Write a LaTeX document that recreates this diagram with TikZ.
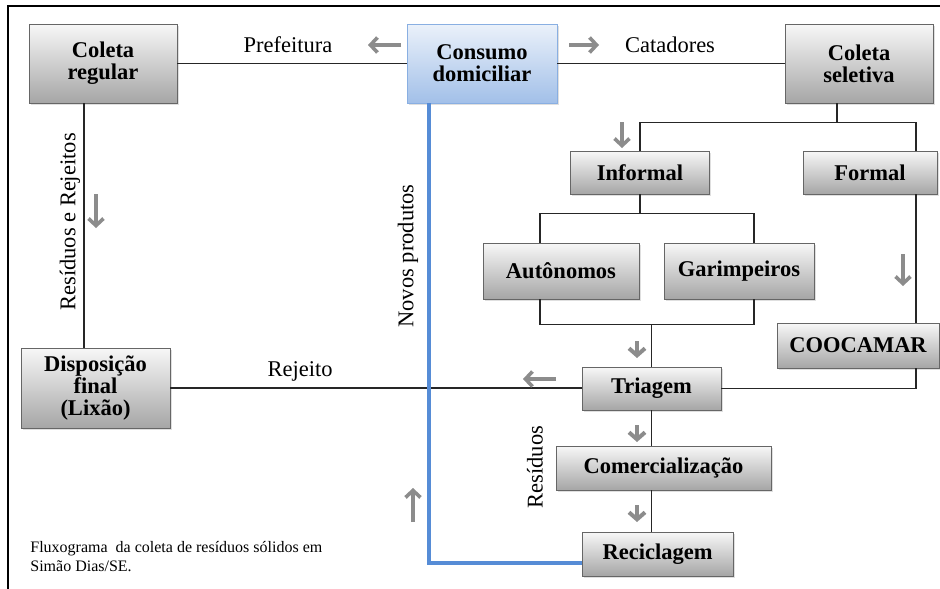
\documentclass[tikz,border=0pt]{standalone}
\usepackage{fontspec}
\setmainfont{Liberation Serif}
\usetikzlibrary{arrows.meta,shadows,calc}

\begin{document}
\begin{tikzpicture}[x=1pt,y=-1pt,thick,
  caixa/.style={draw=black!60,line width=0.8pt,top color=black!3,bottom color=black!35,
    inner sep=0pt,align=center,font=\fontsize{22.5}{22}\selectfont\bfseries,
    drop shadow={opacity=0.25,shadow xshift=1.5pt,shadow yshift=-1.5pt}},
  azul/.style={caixa,draw=consumo!70,top color=consumo!12,bottom color=consumo!55},
  liga/.style={draw=black!85,line width=1.8pt},
  novo/.style={draw=consumo,line width=3.6pt},
  seta/.style={draw=black!45,line width=3.6pt,-{Straight Barb[length=7pt,width=15pt]}},
  chev/.style={draw=black!45,line width=4pt,-{Straight Barb[length=7pt,width=16pt]}},
  rotulo/.style={font=\fontsize{22.5}{22}\selectfont,inner sep=0pt}]
\definecolor{consumo}{RGB}{86,140,214}
\useasboundingbox (0,0) rectangle (940,589);
\fill[white] (0,0) rectangle (940,589);
\draw[line width=1.6pt] (8,589) -- (8,6) -- (940,6);
% caixas
\node[caixa,minimum width=148pt,minimum height=79pt] (colreg) at (103,63.5) {Coleta\\regular};
\node[azul,minimum width=150pt,minimum height=79pt] (consumo) at (482,63.5) {Consumo\\domiciliar};
\node[caixa,minimum width=148pt,minimum height=79pt] (colsel) at (859,63.5) {Coleta\\seletiva};
\node[caixa,minimum width=139pt,minimum height=43pt] (informal) at (640,172.5) {Informal};
\node[caixa,minimum width=134pt,minimum height=43pt] (formal) at (870,172.5) {Formal};
\node[caixa,minimum width=156pt,minimum height=56pt] (auton) at (561,271) {Autônomos};
\node[caixa,minimum width=150pt,minimum height=56pt] (garimp) at (739,271) {Garimpeiros};
\node[caixa,minimum width=162pt,minimum height=45pt] (coocamar) at (858,345.5) {COOCAMAR};
\node[caixa,minimum width=139pt,minimum height=43pt] (triagem) at (651.5,388.5) {Triagem};
\node[caixa,minimum width=215pt,minimum height=44pt] (comerc) at (663.5,468) {Comercialização};
\node[caixa,minimum width=151pt,minimum height=44pt] (recic) at (657.5,554) {Reciclagem};
\node[caixa,minimum width=149pt,minimum height=80pt] (dispos) at (95.5,388) {Disposição\\final\\(Lixão)};
% ligacoes
\draw[liga] (colreg.east) -- (consumo.west);
\draw[liga] (consumo.east) -- (colsel.west);
\draw[liga] ([xshift=-19pt]colreg.south) coordinate (rr) -- (rr |- dispos.north);
\draw[liga] (dispos.east) -- (dispos.east -| triagem.west);
\draw[liga] ([xshift=-22pt]colsel.south) -- ++(0,19) coordinate (bs);
\draw[liga] (informal.north) |- (bs) -| ([xshift=46pt]formal.north);
\draw[liga] (informal.south) -- ++(0,19) coordinate (bi);
\draw[liga] ([xshift=-21pt]auton.north) |- (bi) -| ([xshift=15pt]garimp.north);
\draw[liga] ([xshift=-21pt]auton.south) -- ++(0,25) coordinate (bj) -| ([xshift=15pt]garimp.south);
\draw[liga] (triagem.north) -- (triagem.north |- bj);
\draw[liga] ([xshift=46pt]formal.south) coordinate (ff) -- (ff |- coocamar.north);
\draw[liga] ([xshift=58pt]coocamar.south) |- (triagem.east);
\draw[liga] (triagem.south) -- (triagem.south |- comerc.north);
\draw[liga] (triagem.south |- comerc.south) -- (triagem.south |- recic.north);
\draw[novo] ([xshift=-53pt]consumo.south) |- ([yshift=-9pt]recic.west);
% setas
\draw[seta] (401,45) -- (368,45);
\draw[seta] (569,45) -- (599,45);
\draw[seta] (96,194) -- (96,228);
\draw[seta] (622,122) -- (622,148);
\draw[seta] (903,254) -- (903,286);
\draw[seta] (556,379) -- (523,379);
\draw[seta] (413,522) -- (413,488);
\foreach \y in {341,425,505}
  \draw[chev] (637,\y) -- (637,\y+17);
% rotulos
\node[rotulo] (pref) at (288,45) {Prefeitura};
\node[rotulo] (cat) at (670,45) {Catadores};
\node[rotulo] (rej) at (300,371) {Rejeito};
\node[rotulo,rotate=90] (resrej) at (70,222) {Resíduos e Rejeitos};
\node[rotulo,rotate=90] (novos) at (408,256) {Novos produtos};
\node[rotulo,rotate=90] (res) at (535,467) {Resíduos};
\node[anchor=west,align=left,inner sep=0pt,font=\fontsize{16}{19}\selectfont] (legenda) at (30,557)
  {Fluxograma~ da coleta de resíduos sólidos em\\Simão Dias/SE.};
\end{tikzpicture}
\end{document}
